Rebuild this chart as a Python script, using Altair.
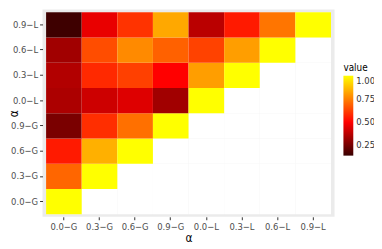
import altair as alt
import pandas as pd

categories = ["0.0−G", "0.3−G", "0.6−G", "0.9−G", "0.0−L", "0.3−L", "0.6−L", "0.9−L"]

# values per y-row (row label -> values along x, lower triangle only)
row_00G = [1.0]
row_03G = [0.70, 1.0]
row_06G = [0.55, 0.845, 1.0]
row_09G = [0.26, 0.59, 0.72, 1.0]
row_00L = [0.35, 0.41, 0.44, 0.33, 1.0]
row_03L = [0.36, 0.58, 0.625, 0.50, 0.81, 1.0]
row_06L = [0.33, 0.65, 0.77, 0.69, 0.63, 0.81, 1.0]
row_09L = [0.15, 0.46, 0.60, 0.83, 0.375, 0.55, 0.73, 1.0]

rows = [row_00G, row_03G, row_06G, row_09G, row_00L, row_03L, row_06L, row_09L]

color_domain = [0.14, 0.5, 1.0]
color_range = ["#380000", "#ff0000", "#ffff00"]
legend_values = [0.25, 0.5, 0.75, 1.0]

records = []
for j, ycat in enumerate(categories):
    vals = rows[j]
    for i, xcat in enumerate(categories):
        records.append({"x": xcat, "y": ycat, "value": vals[i] if i < len(vals) else None})
df = pd.DataFrame(records)

FONT = "Liberation Sans Narrow, DejaVu Sans Condensed, Liberation Sans"

xenc = alt.X("x:N", sort=categories,
             scale=alt.Scale(paddingInner=0, paddingOuter=0.1),
             axis=alt.Axis(title="α", titlePadding=2))
yenc = alt.Y("y:N", sort=categories[::-1],
             scale=alt.Scale(paddingInner=0, paddingOuter=0.1),
             axis=alt.Axis(title="α", titleX=-22))

base = alt.Chart(df)
bg = base.mark_rect(fill="white").encode(x=xenc, y=yenc)
fg = base.transform_filter("datum.value != null").mark_rect().encode(
    x=xenc, y=yenc,
    color=alt.Color("value:Q",
                    scale=alt.Scale(domain=color_domain, range=color_range, interpolate="rgb"),
                    legend=alt.Legend(title="value", orient="none", legendX=305, legendY=54,
                                      direction="vertical", gradientLength=81,
                                      gradientThickness=10, values=legend_values,
                                      format=".2f", gradientStrokeWidth=0,
                                      titleFontSize=10, titleFontWeight="normal",
                                      titleColor="black", titleFont=FONT, titlePadding=3,
                                      labelFont=FONT, labelFontSize=9.5,
                                      labelColor="#333333", labelOffset=3)),
)

chart = alt.layer(bg, fg).properties(
    width=296, height=210,
    autosize=alt.AutoSizeParams(type="none"),
    padding={"left": 35, "top": 0, "right": 40, "bottom": 31},
).configure_view(fill="#EBEBEB", stroke=None).configure_axis(
    domain=False, tickColor="#333333", tickSize=3, tickWidth=1,
    labelColor="#4D4D4D", labelFontSize=9.5, labelFont=FONT, labelPadding=2,
    titleFont=FONT, titleFontSize=12, titleFontWeight="normal", titleColor="black",
    grid=False, bandPosition=0.5,
).configure_axisX(labelAngle=0)

chart.save("out.html", embed_options={"renderer": "svg", "actions": False})
